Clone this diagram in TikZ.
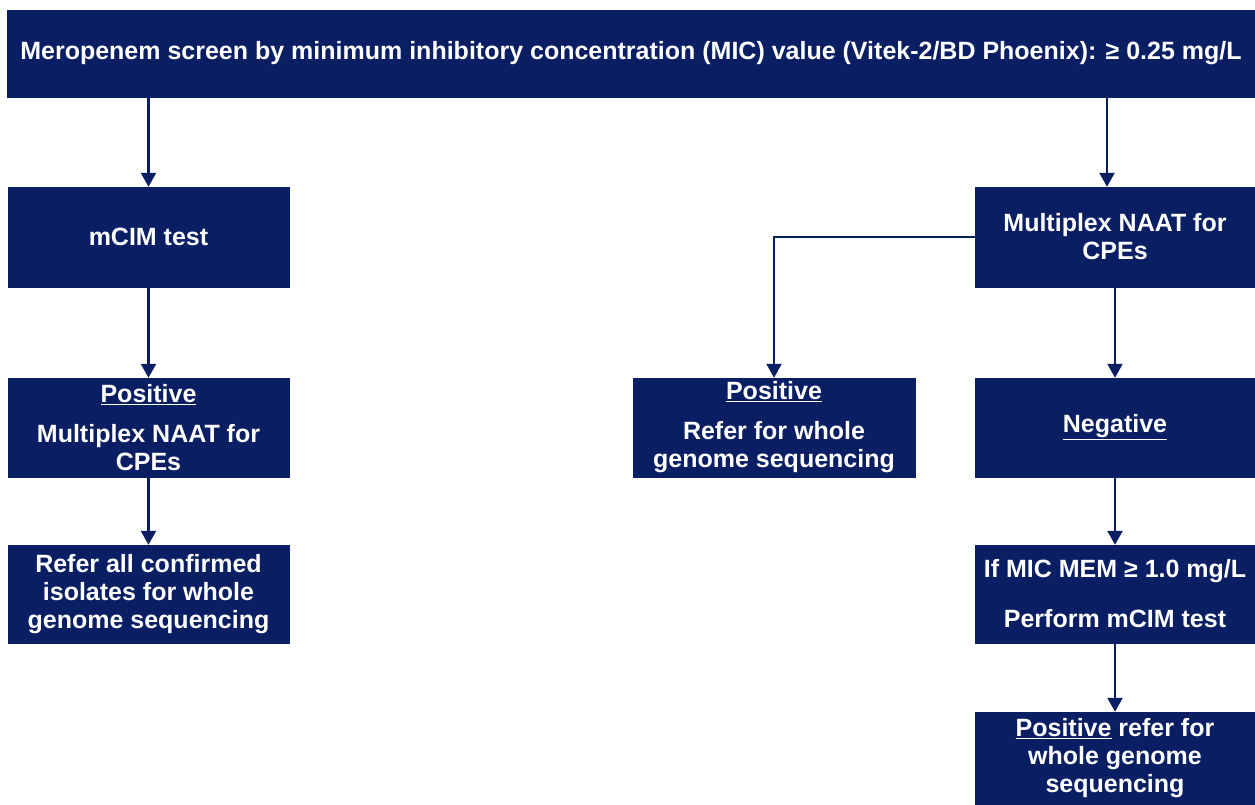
\documentclass[tikz,border=0pt]{standalone}
\usepackage{fontspec}
\setmainfont{Liberation Sans}
\usetikzlibrary{arrows.meta}
\definecolor{navy}{RGB}{9,30,99}
\begin{document}
\begin{tikzpicture}[x=1pt,y=-1pt,
  box/.style={fill=navy,draw=navy,text=white,align=center,inner sep=0pt,
    font=\fontsize{25}{28}\selectfont\bfseries},
  conn/.style={draw=navy,line width=2.3pt,-{Triangle[width=15pt,length=14pt]}}]
\useasboundingbox (0,0) rectangle (1255,805);
\fill[white] (0,0) rectangle (1255,805);
\node[box,minimum width=1248,minimum height=87] (banner) at (631,53.5)
  {Meropenem screen by minimum inhibitory concentration (MIC) value (Vitek-2/BD Phoenix): ≥ 0.25 mg/L};
\node[box,minimum width=281,minimum height=100] (mcim) at (148.5,237) {mCIM test};
\node[box,minimum width=281,minimum height=99] (posl) at (148.5,427.5)
  {\underline{Positive}\\[12pt]Multiplex NAAT for\\CPEs};
\node[box,minimum width=281,minimum height=98] (refl) at (148.5,594)
  {Refer all confirmed\\isolates for whole\\genome sequencing};
\node[box,minimum width=280,minimum height=100] (naat) at (1115,237)
  {Multiplex NAAT for\\CPEs};
\node[box,minimum width=282,minimum height=99] (posr) at (774,427.5)
  {\underline{Positive}\\[12pt]Refer for whole\\genome sequencing};
\node[box,minimum width=280,minimum height=99] (neg) at (1115,427.5)
  {\underline{Negative}};
\node[box,minimum width=280,minimum height=98] (mic) at (1115,594)
  {If MIC MEM ≥ 1.0 mg/L\\[22pt]Perform mCIM test};
\node[box,minimum width=280,minimum height=93] (fin) at (1115,758.5)
  {\underline{Positive} refer for\\whole genome\\sequencing};
\draw[conn] (mcim.north |- banner.south) -- (mcim.north);
\draw[conn] (mcim) -- (posl);
\draw[conn] (posl) -- (refl);
\coordinate (nt) at ([xshift=-8pt]naat.north);
\draw[conn] (nt |- banner.south) -- (nt);
\draw[conn] (naat.west) -| (posr.north);
\draw[conn] (naat) -- (neg);
\draw[conn] (neg) -- (mic);
\draw[conn] (mic) -- (fin);
\end{tikzpicture}
\end{document}
